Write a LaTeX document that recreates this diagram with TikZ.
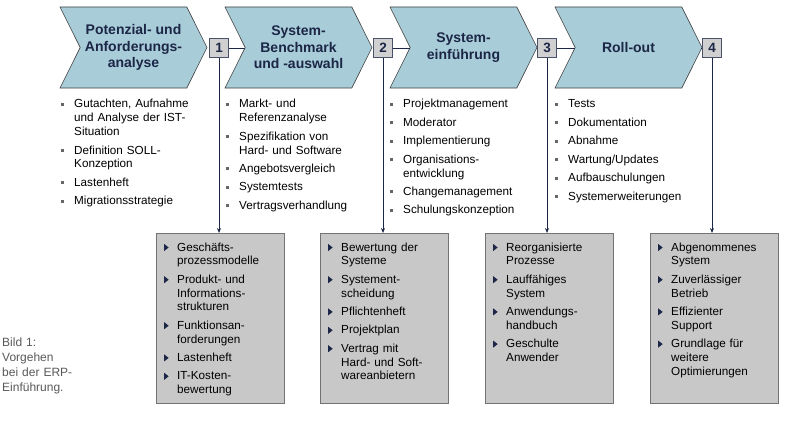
\documentclass[tikz,border=0pt]{standalone}
\usepackage{fontspec}
\setmainfont{Liberation Sans}
\usetikzlibrary{shapes.symbols,arrows.meta,positioning}
\definecolor{chev_blue}{RGB}{168, 204, 216}
\definecolor{box_grey}{RGB}{200, 200, 200}
\definecolor{num_grey}{RGB}{208, 208, 208}
\definecolor{navy}{RGB}{28, 38, 70}
\tikzstyle{chev}=[signal,signal from=west,signal to=east,signal pointer angle=127,
  fill=chev_blue,draw=black!75,line width=0.6pt,minimum width=147pt,minimum height=81pt,
  inner sep=0pt,align=center,font=\fontsize{14}{16.5}\selectfont\bfseries,text=navy]
\tikzstyle{num}=[rectangle,fill=num_grey,draw=navy!80,line width=0.8pt,minimum size=19pt,
  inner sep=0pt,font=\fontsize{13.5}{14}\selectfont\bfseries,text=navy]
\tikzstyle{res}=[rectangle,fill=box_grey,draw=black!55,line width=0.8pt,minimum width=128pt,
  minimum height=170pt,anchor=north west]
\tikzstyle{lst}=[anchor=north west,inner sep=0pt,align=left,text width=150pt,
  font=\fontsize{11.7}{13.8}\selectfont]
\tikzstyle{link}=[draw=navy,line width=0.8pt]
\newcommand{\sq}{\raisebox{2pt}{\color{black!60}\rule{3pt}{3pt}}}
\newcommand{\tri}{\tikz\fill[navy] (0,0)--(0,7pt)--(4.5pt,3.5pt)--cycle;}
\newcommand{\li}[2]{\par\hangindent=13pt\hangafter=1\noindent\makebox[13pt][l]{#1}#2\par\vspace{4.6pt}}
\begin{document}
\begin{tikzpicture}[x=1pt,y=-1pt]
  \useasboundingbox (0,0) rectangle (786,420);
  % phases
  \node [chev] (c1) at (133.5,47.5) {Potenzial- und\\Anforderungs-\\analyse};
  \node [chev] (c2) at (298.5,47.5) {System-\\Benchmark\\und -auswahl};
  \node [chev] (c3) at (463.5,47.5) {System-\\einführung};
  \node [chev] (c4) at (628.5,47.5) {Roll-out};
  % milestones
  \node [num] (n1) at (219,48) {1};
  \node [num] (n2) at (383,48) {2};
  \node [num] (n3) at (547,48) {3};
  \node [num] (n4) at (712,48) {4};
  \coordinate (k2) at (245,48);
  \coordinate (k3) at (410,48);
  \coordinate (k4) at (575,48);
  \coordinate (k5) at (701,48);
  % results
  \node [res] (r1) at (156,233) {};
  \node [res] (r2) at (320,233) {};
  \node [res] (r3) at (485,233) {};
  \node [res] (r4) at (650,233) {};
  \draw [link] (n1) -- (k2);
  \draw [link] (n2) -- (k3);
  \draw [link] (n3) -- (k4);
  \draw [link] (k5) -- (n4);
  \foreach \i in {1,...,4}
    \draw [link,-{Stealth[length=5pt,width=4pt]}] (n\i.south) -- (n\i.south |- r\i.north);
  % activities
  \node [lst] (a1) at (61,94) {\li{\sq}{Gutachten, Aufnahme\newline und Analyse der IST-\newline Situation}
    \li{\sq}{Definition SOLL-\newline Konzeption}\li{\sq}{Lastenheft}\li{\sq}{Migrationsstrategie}};
  \node [lst] (a2) at (226,94) {\li{\sq}{Markt- und\newline Referenzanalyse}
    \li{\sq}{Spezifikation von\newline Hard- und Software}\li{\sq}{Angebotsvergleich}
    \li{\sq}{Systemtests}\li{\sq}{Vertragsverhandlung}};
  \node [lst] (a3) at (390,94) {\li{\sq}{Projektmanagement}\li{\sq}{Moderator}
    \li{\sq}{Implementierung}\li{\sq}{Organisations-\newline entwicklung}
    \li{\sq}{Changemanagement}\li{\sq}{Schulungskonzeption}};
  \node [lst] (a4) at (555,94) {\li{\sq}{Tests}\li{\sq}{Dokumentation}\li{\sq}{Abnahme}
    \li{\sq}{Wartung/Updates}\li{\sq}{Aufbauschulungen}\li{\sq}{Systemerweiterungen}};
  % result texts
  \node [lst] (b1) at (164,237) {\li{\tri}{Geschäfts-\newline prozessmodelle}
    \li{\tri}{Produkt- und\newline Informations-\newline strukturen}\li{\tri}{Funktionsan-\newline forderungen}
    \li{\tri}{Lastenheft}\li{\tri}{IT-Kosten-\newline bewertung}};
  \node [lst] (b2) at (328,237) {\li{\tri}{Bewertung der\newline Systeme}
    \li{\tri}{Systement-\newline scheidung}\li{\tri}{Pflichtenheft}\li{\tri}{Projektplan}
    \li{\tri}{Vertrag mit\newline Hard- und Soft-\newline wareanbietern}};
  \node [lst] (b3) at (493,237) {\li{\tri}{Reorganisierte\newline Prozesse}
    \li{\tri}{Lauffähiges\newline System}\li{\tri}{Anwendungs-\newline handbuch}\li{\tri}{Geschulte\newline Anwender}};
  \node [lst] (b4) at (658,237) {\li{\tri}{Abgenommenes\newline System}
    \li{\tri}{Zuverlässiger\newline Betrieb}\li{\tri}{Effizienter\newline Support}
    \li{\tri}{Grundlage für\newline weitere\newline Optimierungen}};
  % caption
  \node [lst,font=\fontsize{12}{15}\selectfont,text=black!65] (cap) at (2,338)
    {Bild 1:\\Vorgehen\\bei der ERP-\\Einführung.};
\end{tikzpicture}
\end{document}
